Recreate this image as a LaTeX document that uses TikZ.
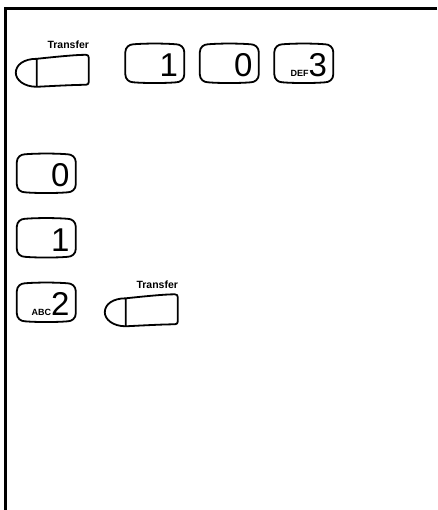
\documentclass[tikz,border=0pt]{standalone}
\usepackage{fontspec}
\setmainfont{Liberation Sans}
\usetikzlibrary{calc}
\newcommand\keyletters{\fontsize{9}{9}\selectfont\bfseries}
\newcommand\keyoutline[1]{%
  \draw[keyline,shift={(#1.north west)}]
    (0,8) .. controls (0,3) and (4,0) .. (8,0)
    .. controls (20,-1) and (39,-1) .. (51,0)
    .. controls (55,0) and (59,3) .. (59,8) -- (59,30)
    .. controls (59,35) and (55,38) .. (51,38)
    .. controls (39,39) and (20,39) .. (8,38)
    .. controls (4,38) and (0,35) .. (0,30) -- cycle;}
\newcommand\xferoutline[1]{%
  \draw[keyline,shift={(#1.north west)}]
    (21,4) .. controls (40,2) and (60,0) .. (70,0)
    .. controls (72,0) and (73,1) .. (73,3) -- (73,27)
    .. controls (73,29) and (72,30) .. (70,30)
    .. controls (60,30) and (40,31) .. (21,32)
    .. controls (8,32) and (0,25) .. (0,18)
    .. controls (0,10) and (8,4) .. (21,4) -- cycle
    (21,4) -- (21,32);}
\tikzset{
  keyline/.style={line width=1.8pt, line join=round},
  framel/.style={line width=3pt},
  keybox/.style={minimum width=59pt, minimum height=38pt, inner sep=0pt,
    text width=46pt, align=right, font=\fontsize{33}{33}\selectfont,
    text height=26pt, text depth=0pt},
  xferbox/.style={minimum width=73pt, minimum height=32pt, inner sep=0pt},
  xferlabel/.style={font=\bfseries\fontsize{10.5}{10.5}\selectfont, anchor=base east, inner sep=0pt}
}
\begin{document}
\begin{tikzpicture}[x=1pt,y=-1pt]
\useasboundingbox (0,0) rectangle (437,510);
% frame
\coordinate (fr) at (437,9);
\coordinate (fc) at (5.5,9);
\coordinate (fb) at (5.5,510);
\draw[framel] (fr) -- (fc) -- (fb);
% top row
\node[xferbox] (t1) at (52.5,71) {};
\xferoutline{t1}
\node[xferlabel] (t1l) at ($(t1.north east)+(0,-6)$) {Transfer};
\node[keybox] (k1) at (155,63.5) {1};
\keyoutline{k1}
\node[keybox] (k0) at (229.5,63.5) {0};
\keyoutline{k0}
\node[keybox] (k3) at (304,63.5) {{\keyletters DEF}3};
\keyoutline{k3}
% left column
\node[keybox] (c0) at (46.5,173.5) {0};
\keyoutline{c0}
\node[keybox] (c1) at (46.5,238) {1};
\keyoutline{c1}
\node[keybox] (c2) at (46.5,302.5) {{\keyletters ABC}2};
\keyoutline{c2}
\node[xferbox] (t2) at (141.5,310.5) {};
\xferoutline{t2}
\node[xferlabel] (t2l) at ($(t2.north east)+(0,-6)$) {Transfer};
\end{tikzpicture}
\end{document}
